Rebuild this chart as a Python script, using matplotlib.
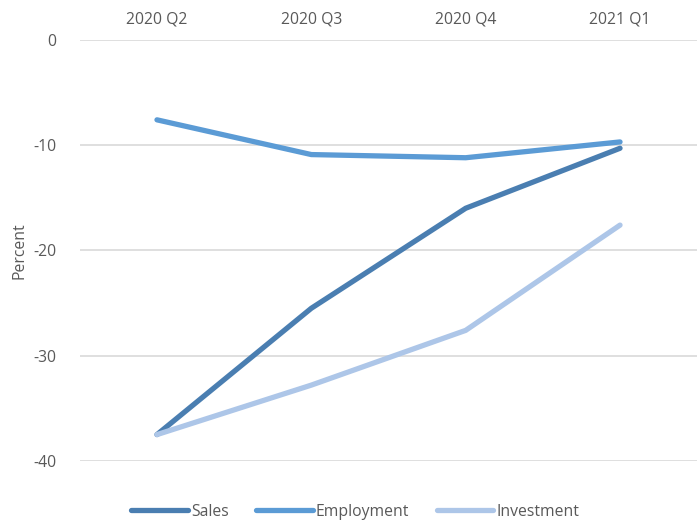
import matplotlib.pyplot as plt

quarters = ['2020 Q2', '2020 Q3', '2020 Q4', '2021 Q1']
sales = [-37.5, -25.5, -16.0, -10.3]
employment = [-7.6, -10.9, -11.2, -9.7]
investment = [-37.5, -32.8, -27.6, -17.6]

text_color = '#595959'
plt.rcParams['font.family'] = ['Open Sans', 'DejaVu Sans']
plt.rcParams['axes.unicode_minus'] = False

fig = plt.figure(figsize=(7, 5.31), dpi=100)
ax = fig.add_axes([0.114, 0.132, 0.882, 0.793])

x = range(len(quarters))
ax.plot(x, sales, color='#4A7EB1', lw=3.8, solid_capstyle='round', label='Sales', zorder=3)
ax.plot(x, employment, color='#5B9BD5', lw=3.8, solid_capstyle='round', label='Employment', zorder=3)
ax.plot(x, investment, color='#ADC6E8', lw=3.8, solid_capstyle='round', label='Investment', zorder=3)

ax.set_xlim(-0.5, len(quarters) - 0.5)
ax.set_ylim(-40, 0)
ax.set_yticks([0, -10, -20, -30, -40])
ax.set_xticks(list(x))
ax.set_xticklabels(quarters)
ax.xaxis.tick_top()
ax.tick_params(axis='both', length=0, labelsize=11.3, labelcolor=text_color)
ax.tick_params(axis='x', pad=9)
ax.tick_params(axis='y', pad=17)
ax.grid(axis='y', color='#D9D9D9', lw=1.2)
ax.set_axisbelow(True)
for s in ax.spines.values():
    s.set_visible(False)

ax.set_ylabel('Percent', fontsize=11.3, color=text_color, labelpad=4)

leg = ax.legend(loc='upper center', bbox_to_anchor=(0.446, -0.068), ncol=3, frameon=False,
                fontsize=11.3, handlelength=3.6, handletextpad=0.2, columnspacing=1.75)
for t in leg.get_texts():
    t.set_color(text_color)

fig.savefig('out.png', dpi=100)
